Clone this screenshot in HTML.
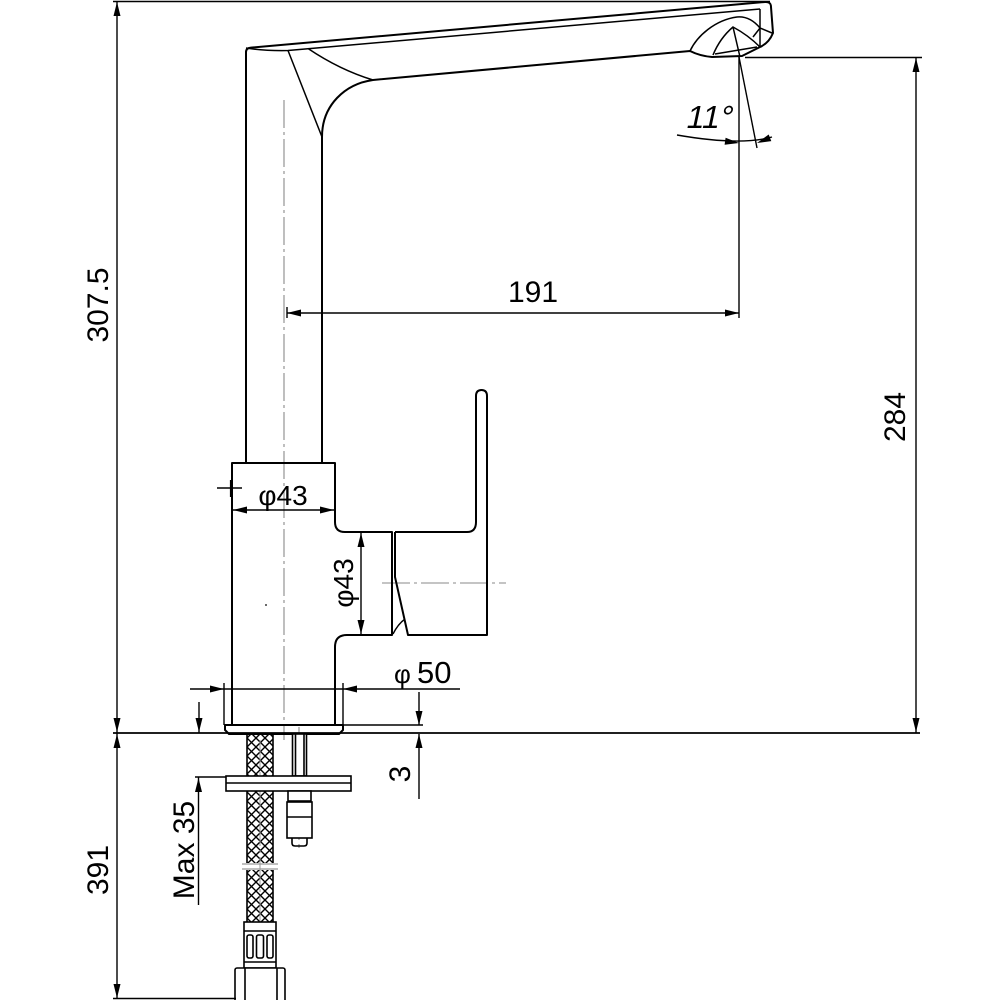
<!DOCTYPE html>
<html><head><meta charset="utf-8"><style>
html,body{margin:0;padding:0;background:#fff;}
svg{display:block;}
text{font-family:"Liberation Sans",Arial,sans-serif;fill:#000;}
</style></head><body>
<svg width="1000" height="1000" viewBox="0 0 1000 1000" xmlns="http://www.w3.org/2000/svg">
<defs>
<pattern id="braid" patternUnits="userSpaceOnUse" width="9" height="9" x="247" y="0">
<path d="M0,0 L9,9 M9,0 L0,9 M-1,8 L1,10 M8,-1 L10,1 M-1,1 L1,-1 M8,10 L10,8" stroke="#000" stroke-width="1.4" fill="none"/>
</pattern>
</defs>
<rect width="1000" height="1000" fill="#fff"/>

<!-- centre lines -->
<g stroke="#8a8a8a" stroke-width="1.1" fill="none" stroke-dasharray="28 4 3 4">
<path d="M284,100 L284,740"/>
<path d="M299,727 L299,848"/>
<path d="M382,583 L506,583"/>
</g>

<!-- spout & column -->
<g stroke="#000" stroke-width="2" fill="none" stroke-linejoin="round">
<path d="M246,463 L246,52 Q246,48 251,47.6 L765,2 Q771,1.5 771,7 L773,33 Q769,43 760,47 L742,56 L712,57 Q700,56 690,51 L373,80 C345,84 322,105 322,137 L322,463"/>
</g>
<g stroke="#000" stroke-width="1.5" fill="none">
<path d="M246,48 Q265,51 288,50.5 L760,9"/>
<path d="M760,9 L760,47"/>
<path d="M288,50.5 L322,137"/>
<path d="M308,48.5 Q340,70 373,80"/>
<path d="M690,51 C697,36 715,20 737,17 C748,16 755,22 760,28"/>
<path d="M713,55 Q720,38 733,27 Q748,35 760,47"/>
<path d="M733,27 L740,57"/>
<path d="M753,37 L760,28 L772,33"/>
<path d="M715,54 L757,47"/>
</g>

<!-- body -->
<g stroke="#000" stroke-width="2" fill="none" stroke-linejoin="round">
<path d="M232,725 L232,463 L335,463 L335,522 Q335,532 345,532 L392,532 L392,635 L347,635 Q335,635 335,647 L335,725"/>
<path d="M395,532 L467,532 Q476,532 476,522 L476,396 Q476,390 481.5,390 Q487,390 487,396 L487,635 L408,635 L395,577 L395,532"/>
<path d="M393,634 Q398,624 405,619" stroke-width="1.4"/>
<path d="M225,725 L343,725 L343,730 L339,734 L229,734 L225,730 Z"/>
</g>
<circle cx="266" cy="605" r="0.9" fill="#000"/>

<!-- hose -->
<rect x="247" y="734" width="26" height="188" fill="url(#braid)"/>
<g stroke="#000" stroke-width="1.6" fill="none">
<path d="M247,734 L247,922 M273,734 L273,922"/>
</g>
<rect x="246" y="863" width="28" height="7" fill="#fff"/>
<g stroke="#999" stroke-width="1.3"><path d="M242,864 L278,864 M242,869 L278,869"/></g>
<path d="M260,740 L260,1000" stroke="#9a9a9a" stroke-width="1" stroke-dasharray="28 4 3 4"/>
<g stroke="#000" stroke-width="1.6" fill="#fff">
<rect x="244" y="922" width="32" height="46"/>
<path d="M244,931 L276,931 M244,962 L276,962" fill="none"/>
<rect x="247" y="935" width="6" height="23" rx="2"/>
<rect x="256.5" y="935" width="7" height="23" rx="2"/>
<rect x="267" y="935" width="6" height="23" rx="2"/>
<rect x="235" y="968" width="50" height="34" rx="2"/>
<path d="M245,968 L245,1000 M277,968 L277,1000" fill="none"/>
</g>

<!-- right small pipe & plate -->
<g stroke="#000" stroke-width="1.6" fill="#fff">
<rect x="292.5" y="734" width="14" height="42"/>
<path d="M295.5,734 L295.5,776 M304,734 L304,776" fill="none"/>
<rect x="226" y="776" width="125" height="15"/>
<path d="M226,783 L351,783" fill="none"/>
<rect x="288" y="791" width="23" height="10"/>
<rect x="287" y="802" width="25" height="36"/>
<path d="M287,817 L312,817" fill="none"/>
<path d="M292,838 L292,843 Q292,846 295,846 L304,846 Q307,846 307,843 L307,838" fill="none"/>
</g>

<!-- dimension lines -->
<g stroke="#000" stroke-width="1.4" fill="none">
<path d="M113,1.5 L770,1.5"/>
<path d="M113,733 L920,733" stroke-width="1.8"/>
<path d="M117,2 L117,998"/>
<path d="M113,998.5 L236,998.5"/>
<path d="M745,57.5 L922,57.5"/>
<path d="M916,58 L916,733"/>
<path d="M739,57 L739,318"/>
<path d="M739,57 L757,148"/>
<path d="M677,135 Q740,146 772,137"/>
<path d="M287,313 L739,313"/>
<path d="M287,307 L287,318"/>
<path d="M217,488 L242,488"/>
<path d="M231,480 L231,497" stroke-width="2.2"/>
<path d="M233,510 L334,510"/>
<path d="M361,533 L361,634"/>
<path d="M190,689 L460,689"/>
<path d="M224,683 L224,725"/>
<path d="M343,683 L343,725"/>
<path d="M343,725 L423,725"/>
<path d="M419,692 L419,725"/>
<path d="M419,734 L419,799"/>
<path d="M199,702 L199,733"/>
<path d="M195,777 L226,777"/>
<path d="M198.5,777 L198.5,905"/>
</g>

<!-- arrowheads -->
<g fill="#000" stroke="none">
<polygon points="117,2 113.5,16 120.5,16"/>
<polygon points="117,732 113.5,718 120.5,718"/>
<polygon points="117,734 113.5,748 120.5,748"/>
<polygon points="117,998 113.5,984 120.5,984"/>
<polygon points="916,58 912.5,72 919.5,72"/>
<polygon points="916,732 912.5,718 919.5,718"/>
<polygon points="287,313 301,309.5 301,316.5"/>
<polygon points="739,313 725,309.5 725,316.5"/>
<polygon points="233,510 247,506.5 247,513.5"/>
<polygon points="334,510 320,506.5 320,513.5"/>
<polygon points="361,533 357.5,547 364.5,547"/>
<polygon points="361,634 357.5,620 364.5,620"/>
<polygon points="224,689 210,685.5 210,692.5"/>
<polygon points="343,689 357,685.5 357,692.5"/>
<polygon points="419,725 415.5,711 422.5,711"/>
<polygon points="419,734 415.5,748 422.5,748"/>
<polygon points="199,732 195.5,718 202.5,718"/>
<polygon points="198.5,778 195,792 202,792"/>
<polygon points="739,143 724.6,144.7 725.6,137.7"/>
<polygon points="757,143 771.3,141.1 768.7,134.5"/>
</g>

<!-- texts -->
<text x="533" y="302" font-size="30" text-anchor="middle">191</text>
<text transform="translate(685,128) skewX(-12)" font-size="32">11°</text>
<text transform="translate(108,305) rotate(-90)" font-size="30" text-anchor="middle">307.5</text>
<text transform="translate(905,417) rotate(-90)" font-size="30" text-anchor="middle">284</text>
<text transform="translate(108,870) rotate(-90)" font-size="30" text-anchor="middle">391</text>
<text transform="translate(194,850) rotate(-90)" font-size="30" text-anchor="middle">Max 35</text>
<text transform="translate(410,774) rotate(-90)" font-size="30" text-anchor="middle">3</text>
<text x="283" y="505" font-size="28" text-anchor="middle">φ43</text>
<text transform="translate(353,583) rotate(-90)" font-size="28" text-anchor="middle">φ43</text>
<text x="394" y="683" font-size="26">φ</text>
<text x="417" y="683" font-size="31">50</text>
</svg>
</body></html>
